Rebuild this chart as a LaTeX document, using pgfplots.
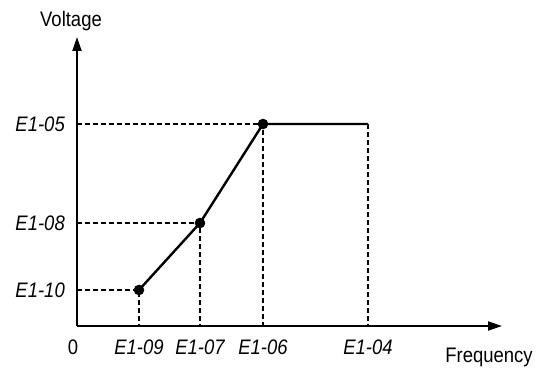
\documentclass[border=0pt]{standalone}
\usepackage{pgfplots}
\pgfplotsset{compat=1.18}
\usepackage{fontspec}
\setmainfont{Liberation Sans}[FakeStretch=0.88]
\usetikzlibrary{arrows.meta}
\begin{document}
\begin{tikzpicture}
\useasboundingbox (-77pt,-49pt) rectangle (463pt,326pt);
\begin{axis}[
  x=1pt, y=1pt,
  xmin=0, xmax=425, ymin=0, ymax=289,
  axis lines=left,
  axis line style={line width=2pt, -{Triangle[length=14pt,width=9pt]}},
  clip=false,
  xtick={62,123,186,291},
  xticklabels={E1-09,E1-07,E1-06,E1-04},
  ytick={36,103,202},
  yticklabels={E1-10,E1-08,E1-05},
  major tick length=0pt,
  tick label style={font=\fontsize{21}{24}\selectfont\itshape},
  xticklabel style={anchor=north, inner sep=0pt, yshift=-14pt},
  yticklabel style={anchor=east, inner sep=0pt, xshift=-12pt},
]
\addplot[black, line width=1.1pt, dash pattern=on 5pt off 3pt] coordinates {(0,36) (62,36) (62,0)};
\addplot[black, line width=1.1pt, dash pattern=on 5pt off 3pt] coordinates {(0,103) (123,103) (123,0)};
\addplot[black, line width=1.1pt, dash pattern=on 5pt off 3pt] coordinates {(0,202) (186,202) (186,0)};
\addplot[black, line width=1.1pt, dash pattern=on 5pt off 3pt] coordinates {(291,202) (291,0)};
\addplot[black, line width=2.4pt, mark=*, mark size=4pt, mark indices={1,2,3}] coordinates {(62,36) (123,103) (186,202) (291,202)};
\node[font=\fontsize{21}{24}\selectfont, anchor=north, inner sep=0pt] at (axis cs:-4,-14) {0};
\node[font=\fontsize{21}{24}\selectfont] at (axis cs:-6,305) {Voltage};
\node[font=\fontsize{21}{24}\selectfont, anchor=base] at (axis cs:412,-36) {Frequency};
\end{axis}
\end{tikzpicture}
\end{document}
